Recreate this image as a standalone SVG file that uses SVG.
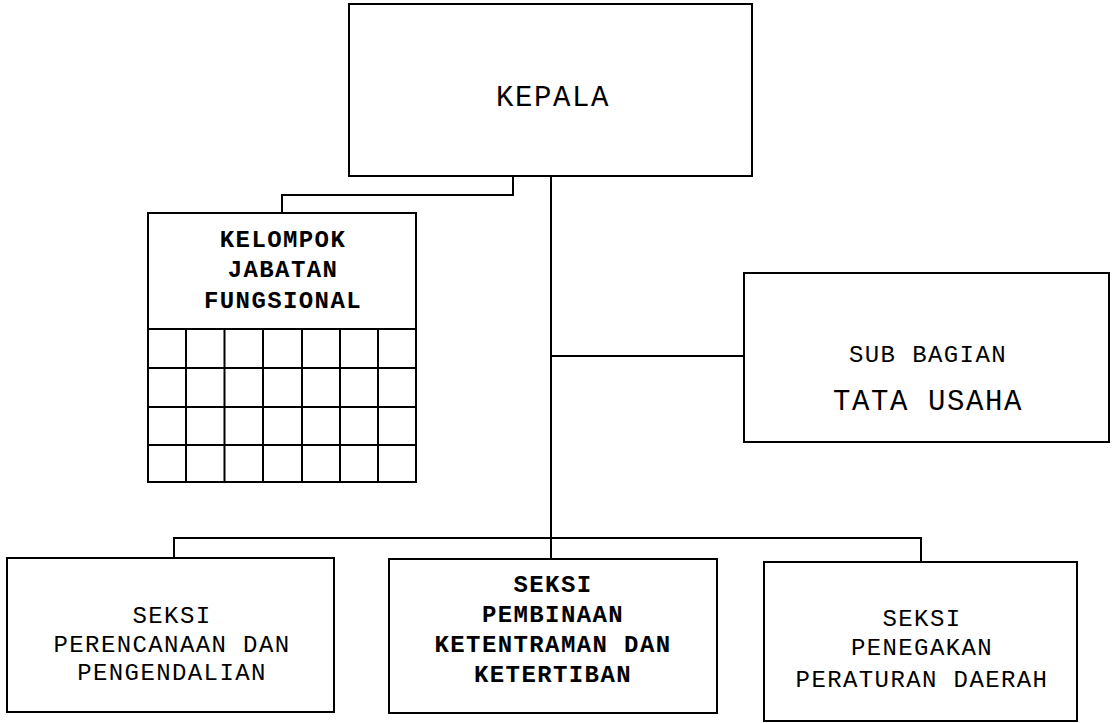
<svg xmlns="http://www.w3.org/2000/svg" width="1112" height="723" viewBox="0 0 1112 723">
<style>
.box{fill:#fff;stroke:#000;stroke-width:2}
.ln{fill:none;stroke:#000;stroke-width:2}
text{font-family:"Liberation Mono","Courier New",monospace;fill:#000;text-anchor:middle}
.t{font-size:24px;letter-spacing:1.4px}
.b{font-size:24px;letter-spacing:1.4px;font-weight:bold}
.L{font-size:29px;letter-spacing:1.6px}
</style>
<rect width="1112" height="723" fill="#fff"/>
<g id="connectors">
<polyline class="ln" points="513,176 513,195 282,195 282,213"/>
<line class="ln" x1="551" y1="176" x2="551" y2="559"/>
<line class="ln" x1="551" y1="356" x2="744" y2="356"/>
<polyline class="ln" points="174,558 174,538 921,538 921,562"/>
</g>
<g id="kepala">
<rect class="box" x="349" y="4" width="403" height="172"/>
<text class="L" x="553" y="106">KEPALA</text>
</g>
<g id="kelompok">
<rect class="box" x="148" y="213" width="268" height="269"/>
<path class="ln" d="M148,329H416M148,368H416M148,407H416M148,445H416M186,329V482M224.5,329V482M263,329V482M302,329V482M340,329V482M378,329V482"/>
<text class="b" x="283" y="247">KELOMPOK</text>
<text class="b" x="283" y="277">JABATAN</text>
<text class="b" x="283" y="308">FUNGSIONAL</text>
</g>
<g id="subbagian">
<rect class="box" x="744" y="273" width="365" height="169"/>
<text class="t" x="928" y="362">SUB BAGIAN</text>
<text class="L" x="928" y="410">TATA USAHA</text>
</g>
<g id="seksi1">
<rect class="box" x="7" y="558" width="327" height="154"/>
<text class="t" x="172" y="623">SEKSI</text>
<text class="t" x="172" y="652">PERENCANAAN DAN</text>
<text class="t" x="172" y="680">PENGENDALIAN</text>
</g>
<g id="seksi2">
<rect class="box" x="389" y="559" width="328" height="154"/>
<text class="b" x="553" y="592">SEKSI</text>
<text class="b" x="553" y="622">PEMBINAAN</text>
<text class="b" x="553" y="652">KETENTRAMAN DAN</text>
<text class="b" x="553" y="682">KETERTIBAN</text>
</g>
<g id="seksi3">
<rect class="box" x="764" y="562" width="313" height="159"/>
<text class="t" x="922" y="626">SEKSI</text>
<text class="t" x="922" y="655">PENEGAKAN</text>
<text class="t" x="922" y="687">PERATURAN DAERAH</text>
</g>
</svg>
